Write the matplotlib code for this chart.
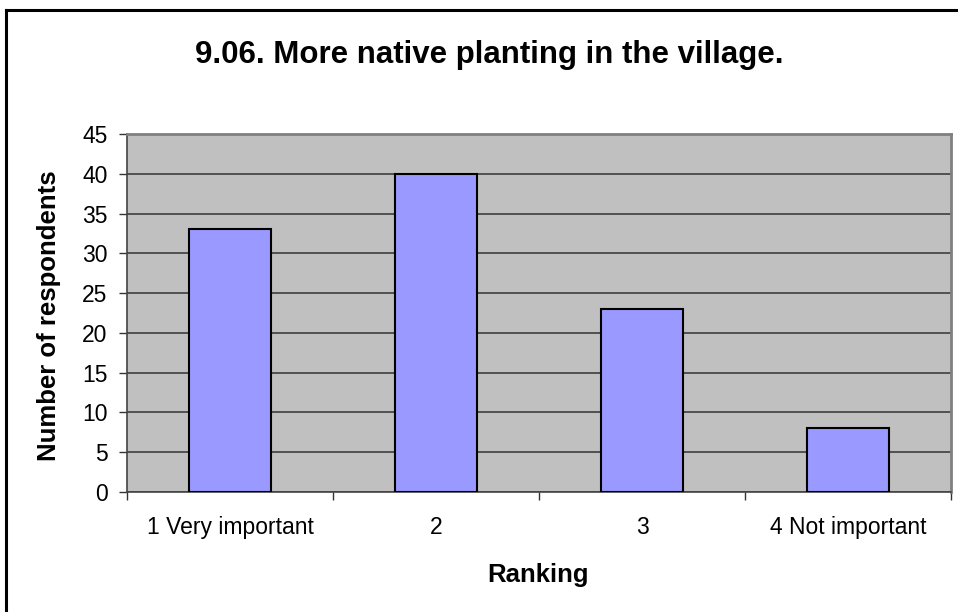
import matplotlib
matplotlib.use("Agg")
import matplotlib.pyplot as plt
from matplotlib.lines import Line2D

categories = ["1 Very important", "2", "3", "4 Not important"]
values = [33, 40, 23, 8]
yticks = [0, 5, 10, 15, 20, 25, 30, 35, 40, 45]
title = "9.06. More native planting in the village."
xlabel = "Ranking"
ylabel = "Number of respondents"

plt.rcParams['font.family'] = ['Liberation Sans', 'DejaVu Sans']

W, H = 958, 612
fig = plt.figure(figsize=(W / 100, H / 100), dpi=100)
fig.patch.set_facecolor('white')

left, right, top, bottom = 127, 951, 134, 492
ax = fig.add_axes([left / W, 1 - bottom / H, (right - left) / W, (bottom - top) / H])
ax.set_facecolor('#C0C0C0')

x = list(range(len(categories)))
ax.bar(x, values, width=0.4, color='#9999FF', edgecolor='black', linewidth=1.5, zorder=3)
ax.set_xlim(-0.5, len(categories) - 0.5)
ax.set_ylim(0, 45)
ax.set_yticks(yticks)
ax.set_yticklabels([str(v) for v in yticks], fontsize=16.5)
ax.yaxis.grid(True, color='#333333', linewidth=1.1, zorder=1)
ax.set_axisbelow(True)

ax.set_xticks(x)
ax.set_xticklabels(categories, fontsize=16.5)
ax.tick_params(axis='x', which='major', length=0, pad=17)
ax.set_xticks([i - 0.5 for i in range(len(categories) + 1)], minor=True)
ax.tick_params(axis='x', which='minor', length=6, width=1, color='#333333', direction='out')
ax.tick_params(axis='y', length=6, width=1, color='#333333', direction='out', pad=8)

for s in ['top', 'right']:
    ax.spines[s].set_color('#808080')
    ax.spines[s].set_linewidth(2)
for s in ['left', 'bottom']:
    ax.spines[s].set_color('#444444')
    ax.spines[s].set_linewidth(1.2)

fig.text(489 / W, 1 - 63 / H, title, fontsize=22.5, fontweight='bold', ha='center', va='baseline')
fig.text(538 / W, 1 - 582 / H, xlabel, fontsize=18.5, fontweight='bold', ha='center', va='baseline')
fig.text(49 / W, 1 - 316 / H, ylabel, fontsize=18.5, fontweight='bold', ha='center', va='center', rotation=90)

fig.add_artist(Line2D([6 / W, 1.0], [1 - 10 / H, 1 - 10 / H], transform=fig.transFigure, color='black', linewidth=2.2))
fig.add_artist(Line2D([6 / W, 6 / W], [1 - 10 / H, 0.0], transform=fig.transFigure, color='black', linewidth=2.2))

fig.savefig('out.png', dpi=100)
